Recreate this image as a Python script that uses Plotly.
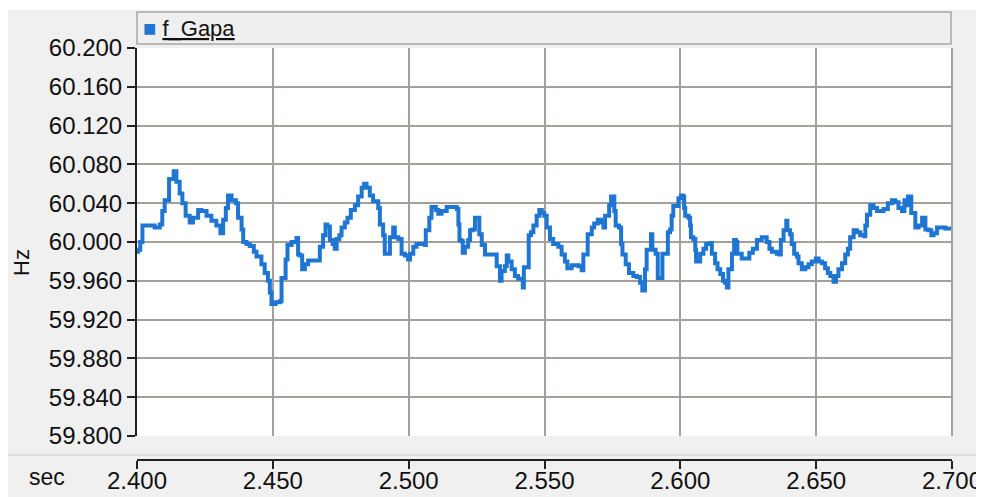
import plotly.graph_objects as go

# time (sec) and frequency (Hz)
t = [2.4000, 2.4004, 2.4012, 2.4020, 2.4047, 2.4065, 2.4084, 2.4093, 2.4102, 2.4118,
     2.4135, 2.4145, 2.4157, 2.4167, 2.4179, 2.4194, 2.4206, 2.4225, 2.4237, 2.4256,
     2.4274, 2.4292, 2.4307, 2.4317, 2.4327, 2.4335, 2.4348, 2.4364, 2.4372, 2.4385,
     2.4391, 2.4403, 2.4415, 2.4430, 2.4440, 2.4458, 2.4470, 2.4482, 2.4489, 2.4495,
     2.4510, 2.4526, 2.4532, 2.4547, 2.4554, 2.4569, 2.4587, 2.4593, 2.4600, 2.4608,
     2.4618, 2.4630, 2.4667, 2.4673, 2.4685, 2.4694, 2.4700, 2.4710, 2.4720, 2.4728,
     2.4735, 2.4745, 2.4753, 2.4765, 2.4775, 2.4787, 2.4802, 2.4814, 2.4827, 2.4836,
     2.4845, 2.4857, 2.4869, 2.4888, 2.4894, 2.4906, 2.4912, 2.4925, 2.4931, 2.4943,
     2.4949, 2.4962, 2.4974, 2.4986, 2.4998, 2.5005, 2.5017, 2.5029, 2.5060, 2.5063,
     2.5076, 2.5084, 2.5100, 2.5109, 2.5121, 2.5140, 2.5177, 2.5183, 2.5187, 2.5193,
     2.5199, 2.5207, 2.5219, 2.5226, 2.5235, 2.5244, 2.5256, 2.5260, 2.5269, 2.5281,
     2.5318, 2.5324, 2.5336, 2.5342, 2.5354, 2.5361, 2.5367, 2.5379, 2.5391, 2.5403,
     2.5420, 2.5424, 2.5437, 2.5442, 2.5450, 2.5459, 2.5471, 2.5481, 2.5490, 2.5499,
     2.5508, 2.5520, 2.5532, 2.5551, 2.5563, 2.5575, 2.5584, 2.5600, 2.5625, 2.5637,
     2.5643, 2.5659, 2.5674, 2.5683, 2.5696, 2.5708, 2.5717, 2.5723, 2.5738, 2.5745,
     2.5753, 2.5757, 2.5762, 2.5774, 2.5782, 2.5787, 2.5796, 2.5799, 2.5811, 2.5827,
     2.5840, 2.5852, 2.5860, 2.5868, 2.5870, 2.5876, 2.5889, 2.5892, 2.5897, 2.5909,
     2.5917, 2.5929, 2.5934, 2.5946, 2.5954, 2.5962, 2.5968, 2.5974, 2.5993, 2.6002,
     2.6009, 2.6014, 2.6018, 2.6030, 2.6036, 2.6039, 2.6048, 2.6055, 2.6058, 2.6067,
     2.6073, 2.6085, 2.6095, 2.6110, 2.6116, 2.6125, 2.6128, 2.6137, 2.6147, 2.6157,
     2.6165, 2.6171, 2.6177, 2.6186, 2.6190, 2.6198, 2.6205, 2.6210, 2.6220, 2.6226,
     2.6251, 2.6254, 2.6267, 2.6282, 2.6300, 2.6312, 2.6318, 2.6328, 2.6337, 2.6355,
     2.6365, 2.6370, 2.6380, 2.6390, 2.6394, 2.6404, 2.6410, 2.6419, 2.6429, 2.6435,
     2.6447, 2.6460, 2.6472, 2.6484, 2.6499, 2.6509, 2.6521, 2.6533, 2.6543, 2.6552,
     2.6564, 2.6573, 2.6582, 2.6595, 2.6607, 2.6617, 2.6625, 2.6638, 2.6650, 2.6662,
     2.6678, 2.6681, 2.6687, 2.6699, 2.6711, 2.6724, 2.6736, 2.6748, 2.6764, 2.6779,
     2.6791, 2.6803, 2.6816, 2.6825, 2.6830, 2.6838, 2.6846, 2.6850, 2.6865, 2.6877,
     2.6890, 2.6895, 2.6902, 2.6914, 2.6924, 2.6932, 2.6945, 2.6963, 2.6975, 2.7000]

f_gapa = [59.990, 59.992, 60.000, 60.017, 60.017, 60.015, 60.018, 60.032, 60.043, 60.065,
          60.073, 60.062, 60.050, 60.040, 60.027, 60.020, 60.025, 60.033, 60.032, 60.027,
          60.022, 60.017, 60.009, 60.023, 60.035, 60.048, 60.043, 60.040, 60.025, 60.013,
          60.000, 59.998, 59.996, 59.990, 59.985, 59.977, 59.968, 59.960, 59.948, 59.936,
          59.938, 59.939, 59.963, 59.982, 59.997, 60.000, 60.004, 59.987, 59.986, 59.972,
          59.977, 59.981, 59.981, 59.995, 60.007, 60.018, 60.016, 60.002, 59.998, 59.993,
          60.003, 60.007, 60.015, 60.020, 60.025, 60.033, 60.038, 60.047, 60.056, 60.060,
          60.056, 60.048, 60.042, 60.035, 60.018, 60.007, 59.988, 59.988, 60.005, 60.015,
          60.005, 60.003, 59.988, 59.986, 59.982, 59.988, 59.995, 59.998, 59.997, 60.012,
          60.025, 60.036, 60.033, 60.029, 60.032, 60.036, 60.034, 60.018, 60.002, 60.001,
          59.989, 59.995, 60.002, 60.012, 60.013, 60.025, 60.025, 60.008, 59.997, 59.987,
          59.987, 59.975, 59.960, 59.970, 59.975, 59.986, 59.980, 59.972, 59.965, 59.962,
          59.953, 59.974, 59.974, 60.007, 60.010, 60.017, 60.027, 60.033, 60.030, 60.027,
          60.015, 60.003, 59.998, 59.995, 59.987, 59.980, 59.973, 59.976, 59.975, 59.971,
          59.987, 60.008, 60.015, 60.019, 60.023, 60.020, 60.015, 60.027, 60.038, 60.047,
          60.047, 60.032, 60.017, 60.015, 59.998, 59.987, 59.987, 59.977, 59.968, 59.965,
          59.964, 59.958, 59.950, 59.950, 59.972, 59.992, 59.992, 60.008, 59.992, 59.988,
          59.963, 59.963, 59.988, 59.988, 60.010, 60.013, 60.027, 60.037, 60.045, 60.048,
          60.047, 60.035, 60.027, 60.025, 60.017, 60.005, 60.003, 59.992, 59.980, 59.980,
          59.988, 59.993, 59.998, 59.999, 59.988, 59.988, 59.978, 59.972, 59.967, 59.960,
          59.958, 59.953, 59.972, 59.972, 59.988, 60.002, 60.000, 59.988, 59.988, 59.983,
          59.983, 59.989, 59.993, 60.002, 60.005, 60.005, 60.000, 59.993, 59.990, 59.988,
          59.987, 60.002, 60.012, 60.022, 60.012, 60.008, 59.998, 59.988, 59.985, 59.978,
          59.972, 59.974, 59.977, 59.980, 59.983, 59.980, 59.978, 59.973, 59.968, 59.965,
          59.959, 59.965, 59.972, 59.978, 59.987, 59.993, 60.005, 60.012, 60.010, 60.007,
          60.006, 60.017, 60.028, 60.038, 60.035, 60.032, 60.032, 60.034, 60.040, 60.043,
          60.041, 60.035, 60.032, 60.043, 60.038, 60.047, 60.047, 60.030, 60.015, 60.017,
          60.025, 60.025, 60.013, 60.012, 60.007, 60.009, 60.015, 60.015, 60.014, 60.013]

series_name = "f_Gapa"
x_range = [2.4, 2.7]
y_range = [59.8, 60.2]
y_ticks = [59.80, 59.84, 59.88, 59.92, 59.96, 60.00, 60.04, 60.08, 60.12, 60.16, 60.20]
x_ticks = [2.40, 2.45, 2.50, 2.55, 2.60, 2.65, 2.70]

LINE = "#1e76d2"
GRID = "#a3a09c"
BG = "#f0f0f0"
FONT = "Liberation Sans"

# the page body adds an 8px offset; work in screen pixels and convert
OFF = 8
W, H = 984 - OFF, 497 - OFF
ML, MT = 137 - OFF, 48 - OFF
MR = W - (952 - OFF)
MB = H - (460 - OFF)
PW, PH = W - ML - MR, H - MT - MB
plot_bottom_px = 436
ydom0 = (460 - plot_bottom_px) / PH

def px_x(px):
    return (px - OFF - ML) / PW

def px_y(py):
    return (H - MB - (py - OFF)) / PH

fig = go.Figure()
fig.add_trace(go.Scatter(x=t, y=f_gapa, mode="lines", name=series_name,
                         line=dict(color=LINE, width=4, shape="hv"),
                         showlegend=False))
fig.add_trace(go.Scatter(x=x_range, y=[None, None], xaxis="x2", yaxis="y",
                         mode="lines", showlegend=False, hoverinfo="skip"))

shapes = [
    # grey panel
    dict(type="rect", xref="paper", yref="paper", x0=px_x(OFF - 2), x1=px_x(W + 30),
         y0=px_y(H + 30), y1=px_y(10), fillcolor=BG, line=dict(width=0), layer="below"),
    # white plotting area
    dict(type="rect", xref="paper", yref="paper", x0=0, x1=1, y0=ydom0, y1=1,
         fillcolor="white", line=dict(width=0), layer="below"),
    # right border of plot
    dict(type="line", xref="paper", yref="paper", x0=1, x1=1, y0=ydom0, y1=1,
         line=dict(color=GRID, width=2)),
    # separator line above x axis strip
    dict(type="line", xref="paper", yref="paper", x0=px_x(7), x1=px_x(W + 30),
         y0=px_y(455), y1=px_y(455), line=dict(color="#d6d6d6", width=1.5)),
    # legend box
    dict(type="rect", xref="paper", yref="paper", x0=0, x1=px_x(951),
         y0=px_y(44), y1=px_y(12), fillcolor="#efefef",
         line=dict(color="#a8a8a8", width=1.5)),
]

annotations = [
    dict(text='<span style="color:%s">■</span> <u>%s</u>' % (LINE, series_name),
         xref="paper", yref="paper", x=px_x(141), y=px_y(29), xanchor="left",
         yanchor="middle", showarrow=False, font=dict(family=FONT, size=22, color="#111")),
    dict(text="sec", xref="paper", yref="paper", x=px_x(47), y=px_y(477),
         xanchor="center", yanchor="middle", showarrow=False,
         font=dict(family=FONT, size=23, color="#111")),
    dict(text="Hz", xref="paper", yref="paper", x=px_x(21), y=px_y(262),
         xanchor="center", yanchor="middle", textangle=-90, showarrow=False,
         font=dict(family=FONT, size=22, color="#111")),
]

fig.update_layout(
    width=W, height=H,
    margin=dict(l=ML, r=MR, t=MT, b=MB, pad=0, autoexpand=False),
    paper_bgcolor="white", plot_bgcolor="rgba(0,0,0,0)",
    font=dict(family=FONT, size=24, color="#111"),
    shapes=shapes, annotations=annotations,
    xaxis=dict(range=x_range, tickvals=x_ticks, showticklabels=False, ticks="",
               showgrid=True, gridcolor=GRID, gridwidth=2, zeroline=False,
               showline=False, anchor="y", automargin=False),
    xaxis2=dict(range=x_range, tickvals=x_ticks, tickformat=".3f", overlaying="x",
                anchor="free", position=0, side="bottom", showgrid=False,
                zeroline=False, showline=True, linecolor="#222", linewidth=2,
                ticks="outside", ticklen=8, tickwidth=1.5, tickcolor="#222",
                automargin=False, ticklabelstandoff=-9,
                tickfont=dict(family=FONT, size=24, color="#111")),
    yaxis=dict(range=y_range, domain=[ydom0, 1], tickvals=y_ticks, tickformat=".3f",
               showgrid=True, gridcolor=GRID, gridwidth=2, zeroline=False,
               showline=True, linecolor="#222", linewidth=2, ticks="outside",
               ticklen=8, tickwidth=1.5, tickcolor="#222", automargin=False,
               tickfont=dict(family=FONT, size=24, color="#111")),
)

fig.write_html("out.html")
